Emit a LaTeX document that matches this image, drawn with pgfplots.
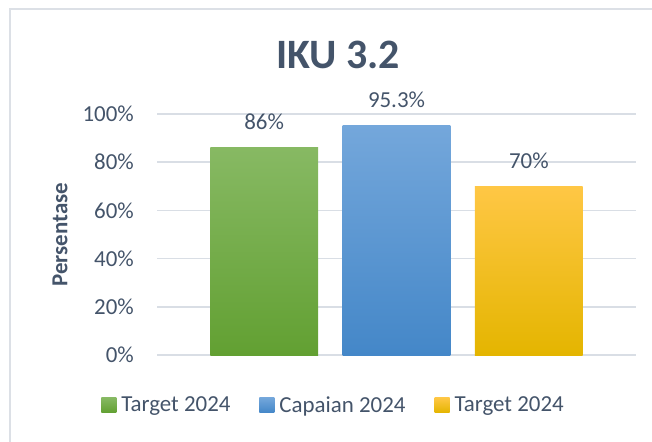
\documentclass[border=0pt]{standalone}
\usepackage{fontspec}
\setmainfont{Carlito}
\usepackage{pgfplots}
\pgfplotsset{compat=1.18}

\definecolor{txt}{HTML}{44546A}
\definecolor{gridc}{HTML}{D9DEE5}
\definecolor{frame}{HTML}{DCE0E6}
\definecolor{gtop}{HTML}{87B963}
\definecolor{gmid}{HTML}{70AD47}
\definecolor{gbot}{HTML}{62A032}
\definecolor{btop}{HTML}{74A7DB}
\definecolor{bmid}{HTML}{5B9BD5}
\definecolor{bbot}{HTML}{4487C8}
\definecolor{ytop}{HTML}{FFC745}
\definecolor{ymid}{HTML}{FFC000}
\definecolor{ybot}{HTML}{E4B500}

\begin{document}
\begin{tikzpicture}
\path[use as bounding box] (0,0) rectangle (652bp,-442bp);
% chart frame (only top and left edges visible)
\draw[frame, line width=1.5bp] (10bp,-442bp) -- (10bp,-9bp) -- (652bp,-9bp);

\node[anchor=base, text=txt, font=\fontsize{42}{48}\selectfont\bfseries] at (338bp,-68bp) {IKU 3.2};

\begin{axis}[
    at={(157bp,-355bp)}, anchor=south west,
    scale only axis,
    width=479bp, height=241bp,
    xmin=-0.81, xmax=2.81,
    ymin=0, ymax=100,
    axis line style={draw=none},
    xtick=\empty,
    ytick={0,20,40,60,80,100},
    yticklabels={0\%,20\%,40\%,60\%,80\%,100\%},
    major tick length=0pt,
    ymajorgrids,
    grid style={gridc, line width=1.5bp},
    yticklabel style={text=txt, font=\fontsize{23}{27}\selectfont, anchor=east, inner sep=0pt, xshift=-23bp},
    ylabel={Persentase},
    every axis y label/.style={at={(axis description cs:-0.2025,0.5)}, rotate=90, anchor=center,
        text=txt, font=\fontsize{23}{27}\selectfont\bfseries},
    clip=false,
    ybar, bar width=0.815, bar shift=0pt,
    point meta=explicit symbolic,
    nodes near coords,
    every node near coord/.append style={anchor=base, yshift=18bp, inner sep=0pt,
        text=txt, font=\fontsize{23}{27}\selectfont},
    legend columns=3,
    legend style={at={(0.3685,-0.2075)}, anchor=center, draw=none, fill=none,
        font=\fontsize{23}{27}\selectfont, text=txt,
        /tikz/every odd column/.append style={column sep=3bp},
        /tikz/every even column/.append style={column sep=27bp}},
    legend image code/.code={\path[#1, draw=none] (0bp,-7.5bp) rectangle (15bp,7.5bp);},
]
\addplot[draw=none, top color=gtop, middle color=gmid, bottom color=gbot]
    coordinates {(0,86) [86\%]};
\addlegendentry{Target 2024}
\addplot[draw=none, top color=btop, middle color=bmid, bottom color=bbot]
    coordinates {(1,95.3) [95.3\%]};
\addlegendentry{Capaian 2024}
\addplot[draw=none, top color=ytop, middle color=ymid, bottom color=ybot]
    coordinates {(2,70) [70\%]};
\addlegendentry{Target 2024}
\end{axis}
\end{tikzpicture}
\end{document}
